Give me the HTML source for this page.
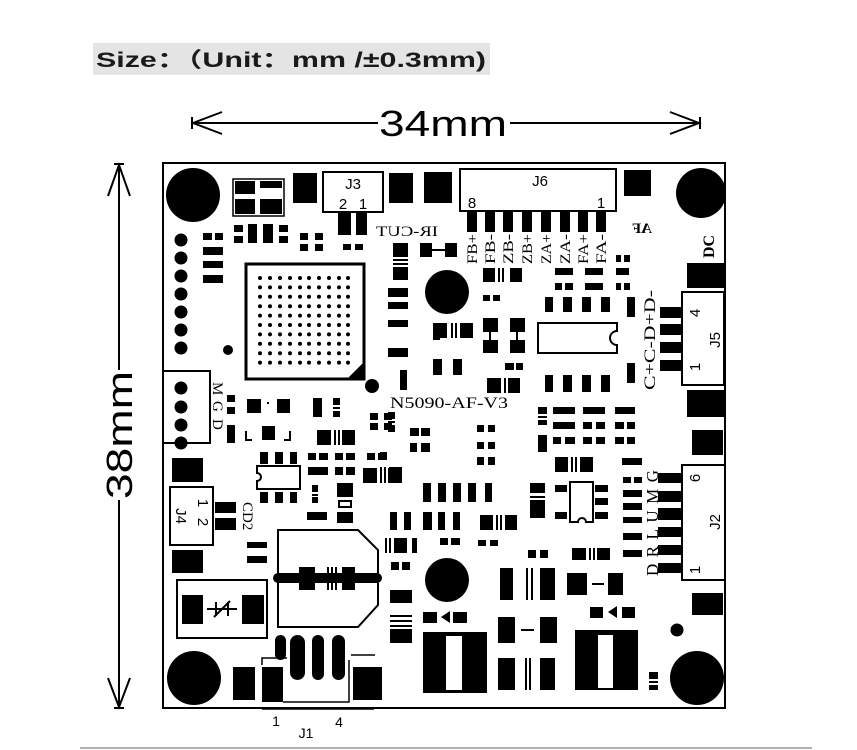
<!DOCTYPE html>
<html><head><meta charset="utf-8"><style>
html,body{margin:0;padding:0;background:#fff;width:857px;height:750px;overflow:hidden}
svg{display:block}
.s{font-family:"Liberation Serif",serif}
.a{font-family:"Liberation Sans",sans-serif}
</style></head><body>
<svg width="857" height="750" viewBox="0 0 857 750" xmlns="http://www.w3.org/2000/svg">
<rect x="93" y="43" width="397" height="32" fill="#e4e4e4"/>
<text x="96" y="67" class="a" font-size="21" font-weight="bold" fill="#1a1a1a" textLength="390" lengthAdjust="spacingAndGlyphs" style="font-family:'Liberation Sans','Noto Sans CJK SC',sans-serif">Size：（Unit：mm /±0.3mm)</text>

<g stroke="#000" stroke-width="2" fill="none">
<line x1="192" y1="123" x2="378" y2="123"/>
<line x1="510" y1="123" x2="700" y2="123"/>
<polyline points="222,112 193,123 222,134"/>
<polyline points="670,112 699,123 670,134"/>
<line x1="700" y1="117" x2="700" y2="129"/>
<line x1="192" y1="117" x2="192" y2="129"/>
<line x1="119" y1="165" x2="119" y2="370"/>
<line x1="119" y1="500" x2="119" y2="707"/>
<polyline points="108,196 119,165 130,196"/>
<polyline points="108,678 119,707 130,678"/>
<line x1="114" y1="708" x2="124" y2="708"/>
<line x1="114" y1="164" x2="124" y2="164"/>
</g>
<text x="443" y="136" class="a" font-size="36" text-anchor="middle" fill="#000" textLength="128" lengthAdjust="spacingAndGlyphs">34mm</text>
<text transform="translate(132,435) rotate(-90)" class="a" font-size="36" text-anchor="middle" fill="#000" textLength="128" lengthAdjust="spacingAndGlyphs">38mm</text>

<line x1="80" y1="748" x2="812" y2="748" stroke="#999" stroke-width="1.5"/>

<rect x="163" y="163" width="562" height="545" fill="#fff" stroke="#000" stroke-width="2"/>

<g fill="#000">
<circle cx="193" cy="195" r="27"/>
<circle cx="701" cy="193" r="25"/>
<circle cx="194" cy="678" r="27"/>
<circle cx="697" cy="678" r="27"/>
</g>
<rect x="233" y="179" width="51" height="37" fill="none" stroke="#000" stroke-width="1.5"/>
<g fill="#000">
<rect x="235" y="181" width="20" height="13"/><rect x="260" y="181" width="22" height="7"/>
<rect x="235" y="199" width="20" height="15"/><rect x="260" y="199" width="22" height="15"/>
<rect x="293" y="173" width="24" height="30"/>
<rect x="389" y="173" width="24" height="30"/>
<rect x="424" y="172" width="28" height="31"/>
<rect x="624" y="170" width="27" height="26"/>
</g>
<rect x="323" y="172" width="60" height="40" fill="none" stroke="#000" stroke-width="2"/>
<text x="353" y="189" class="a" font-size="15" text-anchor="middle">J3</text>
<text x="343" y="209" class="a" font-size="15" text-anchor="middle">2</text>
<text x="363" y="209" class="a" font-size="15" text-anchor="middle">1</text>

<rect x="460" y="169" width="156" height="42" fill="none" stroke="#000" stroke-width="2"/>
<text x="540" y="186" class="a" font-size="15" text-anchor="middle">J6</text>
<text x="472" y="208" class="a" font-size="15" text-anchor="middle">8</text>
<text x="601" y="208" class="a" font-size="15" text-anchor="middle">1</text>
<g fill="#000">
<rect x="467" y="211" width="10" height="21"/><rect x="485" y="211" width="10" height="21"/>
<rect x="503" y="211" width="10" height="21"/><rect x="522" y="211" width="10" height="21"/>
<rect x="541" y="211" width="10" height="21"/><rect x="560" y="211" width="10" height="21"/>
<rect x="578" y="211" width="10" height="21"/><rect x="596" y="211" width="10" height="21"/>
</g>
<g class="s" font-size="15" fill="#000">
<text transform="translate(477,264) rotate(-90)" textLength="30" lengthAdjust="spacingAndGlyphs">FB+</text>
<text transform="translate(495,264) rotate(-90)" textLength="30" lengthAdjust="spacingAndGlyphs">FB-</text>
<text transform="translate(513,264) rotate(-90)" textLength="30" lengthAdjust="spacingAndGlyphs">ZB-</text>
<text transform="translate(532,264) rotate(-90)" textLength="30" lengthAdjust="spacingAndGlyphs">ZB+</text>
<text transform="translate(551,264) rotate(-90)" textLength="30" lengthAdjust="spacingAndGlyphs">ZA+</text>
<text transform="translate(570,264) rotate(-90)" textLength="30" lengthAdjust="spacingAndGlyphs">ZA-</text>
<text transform="translate(588,264) rotate(-90)" textLength="30" lengthAdjust="spacingAndGlyphs">FA+</text>
<text transform="translate(606,264) rotate(-90)" textLength="30" lengthAdjust="spacingAndGlyphs">FA-</text>
</g>
<text transform="translate(652,233) scale(-1,1)" class="s" font-size="15" font-weight="bold">AF</text>
<text transform="translate(438,236) scale(-1,1)" class="s" font-size="15" textLength="62" lengthAdjust="spacingAndGlyphs">IR-CUT</text>
<text transform="translate(714,258) rotate(-90)" class="s" font-size="16" font-weight="bold">DC</text>

<g fill="#000">
<circle cx="181" cy="240" r="6.5"/><circle cx="181" cy="258" r="6.5"/><circle cx="181" cy="276" r="6.5"/>
<circle cx="181" cy="294" r="6.5"/><circle cx="181" cy="312" r="6.5"/><circle cx="181" cy="330" r="6.5"/>
<circle cx="181" cy="348" r="6.5"/>
<circle cx="228" cy="350" r="5"/>
<circle cx="372" cy="386" r="7"/>
<circle cx="447" cy="292" r="22"/>
<circle cx="447" cy="580" r="22"/>
<circle cx="677" cy="630" r="6.5"/>
</g>

<rect x="246" y="264" width="118" height="115" fill="none" stroke="#000" stroke-width="3"/>
<polygon points="364,362 364,379 347,379" fill="#000"/>
<g fill="#000">
<g id="row">
<circle cx="260" cy="278" r="2"/><circle cx="270" cy="278" r="2"/><circle cx="280" cy="278" r="2"/>
<circle cx="290" cy="278" r="2"/><circle cx="300" cy="278" r="2"/><circle cx="309" cy="278" r="2"/>
<circle cx="319" cy="278" r="2"/><circle cx="329" cy="278" r="2"/><circle cx="339" cy="278" r="2"/>
<circle cx="348" cy="278" r="2"/>
</g>
<use href="#row" y="9.4"/><use href="#row" y="18.8"/><use href="#row" y="28.2"/><use href="#row" y="37.6"/>
<use href="#row" y="47"/><use href="#row" y="56.4"/><use href="#row" y="65.8"/><use href="#row" y="75.2"/><use href="#row" y="84.6"/>
</g>

<g fill="#000">
<rect x="203" y="233" width="9" height="7"/><rect x="215" y="233" width="8" height="7"/>
<rect x="203" y="247" width="20" height="8"/><rect x="203" y="261" width="20" height="7"/><rect x="203" y="275" width="20" height="8"/>
<rect x="234" y="225" width="9" height="7"/><rect x="234" y="236" width="9" height="7"/>
<rect x="248" y="224" width="9" height="19"/><rect x="263" y="224" width="10" height="19"/>
<rect x="279" y="225" width="9" height="7"/><rect x="279" y="236" width="9" height="7"/>
<rect x="300" y="233" width="8" height="7"/><rect x="315" y="233" width="8" height="7"/>
<rect x="300" y="244" width="8" height="7"/><rect x="315" y="244" width="8" height="7"/>
<rect x="338" y="213" width="13" height="22"/><rect x="356" y="213" width="11" height="22"/>
<rect x="343" y="244" width="8" height="6"/><rect x="355" y="244" width="8" height="6"/>
<rect x="393" y="243" width="15" height="14"/>
<rect x="393" y="259" width="15" height="2"/><rect x="393" y="263" width="15" height="2"/>
<rect x="393" y="267" width="15" height="13"/>
<rect x="420" y="243" width="12" height="14"/><rect x="432" y="249" width="13" height="2"/><rect x="445" y="243" width="12" height="14"/>
<rect x="388" y="288" width="20" height="9"/><rect x="388" y="302" width="20" height="7"/>
<rect x="388" y="320" width="20" height="7"/><rect x="388" y="348" width="20" height="9"/>
<rect x="400" y="370" width="7" height="20"/>
<rect x="433" y="327" width="7" height="13"/>

<rect x="483" y="268" width="12" height="14"/><rect x="498" y="268" width="2" height="14"/><rect x="502" y="268" width="2" height="14"/><rect x="510" y="268" width="12" height="14"/>
<rect x="483" y="295" width="7" height="6"/><rect x="493" y="295" width="7" height="6"/>
<rect x="555" y="268" width="18" height="7"/><rect x="585" y="268" width="18" height="7"/><rect x="616" y="268" width="13" height="7"/>
<rect x="616" y="255" width="5" height="7"/><rect x="624" y="255" width="6" height="7"/>
<rect x="555" y="283" width="7" height="7"/><rect x="565" y="283" width="8" height="7"/>
<rect x="585" y="283" width="18" height="7"/>
<rect x="616" y="283" width="5" height="7"/><rect x="624" y="283" width="6" height="7"/>
<rect x="545" y="297" width="8" height="15"/><rect x="563" y="297" width="9" height="15"/><rect x="582" y="297" width="9" height="15"/><rect x="601" y="297" width="9" height="15"/>
<rect x="627" y="297" width="8" height="20"/>
<rect x="433" y="323" width="14" height="15"/><rect x="451" y="323" width="2" height="15"/><rect x="455" y="323" width="2" height="15"/><rect x="460" y="323" width="13" height="15"/>
<rect x="483" y="318" width="15" height="14"/><rect x="489" y="332" width="2" height="8"/><rect x="483" y="340" width="15" height="13"/>
<rect x="510" y="318" width="15" height="14"/><rect x="516" y="332" width="2" height="8"/><rect x="510" y="340" width="15" height="13"/>
<rect x="433" y="359" width="9" height="16"/><rect x="453" y="359" width="9" height="16"/>
<rect x="507" y="363" width="7" height="7"/><rect x="516" y="363" width="6" height="7"/>
<rect x="487" y="378" width="14" height="15"/><rect x="504" y="378" width="2" height="15"/><rect x="508" y="378" width="12" height="15"/>
<rect x="545" y="375" width="8" height="17"/><rect x="563" y="375" width="9" height="17"/><rect x="582" y="375" width="9" height="17"/><rect x="601" y="375" width="9" height="17"/>
<rect x="627" y="363" width="8" height="20"/>
</g>
<path d="M538,323 H617 V331 A7,7 0 0 0 617,345 V353 H538 Z" fill="none" stroke="#000" stroke-width="2"/>

<rect x="682" y="292" width="42" height="93" fill="none" stroke="#000" stroke-width="2"/>
<g fill="#000">
<rect x="660" y="307" width="22" height="11"/><rect x="660" y="324" width="22" height="11"/>
<rect x="660" y="342" width="22" height="11"/><rect x="660" y="360" width="22" height="11"/>
<rect x="687" y="263" width="37" height="25"/>
<rect x="687" y="390" width="37" height="27"/>
</g>
<text transform="translate(700,313) rotate(-90)" class="a" font-size="15" text-anchor="middle">4</text>
<text transform="translate(700,367) rotate(-90)" class="a" font-size="15" text-anchor="middle">1</text>
<text transform="translate(720,340) rotate(-90)" class="a" font-size="15" text-anchor="middle">J5</text>
<text transform="translate(655,390) rotate(-90)" class="s" font-size="16" textLength="100" lengthAdjust="spacingAndGlyphs">C+C-D+D-</text>

<rect x="163" y="371" width="47" height="72" fill="none" stroke="#000" stroke-width="2"/>
<g fill="#000">
<circle cx="181" cy="388" r="6.5"/><circle cx="181" cy="407" r="6.5"/><circle cx="181" cy="425" r="6.5"/><circle cx="181" cy="443" r="6.5"/>
</g>
<g class="s" font-size="15">
<text transform="translate(213,382) rotate(90)">M</text>
<text transform="translate(213,401) rotate(90)">G</text>
<text transform="translate(213,419) rotate(90)">D</text>
</g>
<g fill="#000">
<rect x="227" y="395" width="8" height="7"/><rect x="227" y="407" width="8" height="7"/>
<rect x="227" y="425" width="8" height="18"/>
<rect x="247" y="399" width="14" height="14"/><rect x="267" y="402" width="2" height="2"/><rect x="277" y="399" width="13" height="14"/>
<rect x="262" y="426" width="13" height="14"/>
<rect x="313" y="398" width="9" height="19"/>
<rect x="333" y="398" width="7" height="7"/><rect x="333" y="407" width="7" height="2"/><rect x="333" y="411" width="7" height="6"/>
<rect x="317" y="430" width="14" height="15"/><rect x="334" y="430" width="2" height="15"/><rect x="338" y="430" width="2" height="15"/><rect x="342" y="430" width="13" height="15"/>
<rect x="370" y="413" width="8" height="7"/><rect x="384" y="413" width="8" height="7"/>
<rect x="370" y="423" width="8" height="7"/><rect x="384" y="423" width="8" height="7"/>
<rect x="410" y="428" width="7" height="8"/><rect x="421" y="428" width="9" height="8"/>
<rect x="410" y="443" width="7" height="9"/><rect x="421" y="443" width="9" height="9"/>
<rect x="388" y="412" width="7" height="7"/><rect x="388" y="421" width="7" height="2"/><rect x="388" y="425" width="7" height="7"/>
<rect x="172" y="458" width="31" height="24"/>
<rect x="172" y="550" width="31" height="23"/>
<rect x="215" y="502" width="21" height="11"/><rect x="215" y="518" width="21" height="12"/>
<rect x="247" y="542" width="20" height="6"/><rect x="247" y="556" width="20" height="7"/>
</g>
<path d="M246,431 V440 H252 M290,431 V440 H284" fill="none" stroke="#000" stroke-width="2"/>

<path d="M257,466 H300 V489 H257 V481 A4,4 0 0 0 257,473 Z" fill="none" stroke="#000" stroke-width="2"/>
<g fill="#000">
<rect x="260" y="452" width="8" height="12"/><rect x="275" y="452" width="8" height="12"/><rect x="290" y="452" width="7" height="12"/>
<rect x="260" y="492" width="8" height="11"/><rect x="275" y="492" width="8" height="11"/><rect x="290" y="492" width="7" height="11"/>
<rect x="308" y="453" width="8" height="7"/><rect x="319" y="453" width="9" height="7"/>
<rect x="335" y="453" width="8" height="7"/><rect x="346" y="453" width="9" height="7"/>
<rect x="367" y="453" width="8" height="7"/><rect x="378" y="453" width="9" height="7"/>
<rect x="308" y="467" width="20" height="8"/>
<rect x="335" y="467" width="8" height="8"/><rect x="346" y="467" width="9" height="8"/>
<rect x="363" y="468" width="14" height="15"/><rect x="380" y="468" width="2" height="15"/><rect x="384" y="468" width="2" height="15"/><rect x="388" y="468" width="12" height="15"/>
<rect x="312" y="485" width="6" height="7"/><rect x="312" y="494" width="6" height="2"/><rect x="312" y="497" width="6" height="6"/>
<rect x="337" y="483" width="16" height="14"/>
<rect x="337" y="512" width="16" height="11"/>
<rect x="307" y="512" width="20" height="8"/>
</g>
<rect x="339" y="501" width="12" height="6" fill="none" stroke="#000" stroke-width="2"/>
<text transform="translate(243,502) rotate(90)" class="s" font-size="15">CD2</text>

<rect x="170" y="487" width="43" height="58" fill="none" stroke="#000" stroke-width="2"/>
<text transform="translate(198,503) rotate(90)" class="a" font-size="15" text-anchor="middle">1</text>
<text transform="translate(198,522) rotate(90)" class="a" font-size="15" text-anchor="middle">2</text>
<text transform="translate(176,516) rotate(90)" class="a" font-size="15" text-anchor="middle">J4</text>

<text x="390" y="408" class="s" font-size="16" textLength="118" lengthAdjust="spacingAndGlyphs">N5090-AF-V3</text>
<g fill="#000">
<rect x="505" y="363" width="7" height="7"/><rect x="516" y="363" width="7" height="7"/>
<rect x="412" y="428" width="7" height="8"/><rect x="422" y="428" width="8" height="8"/>
<rect x="477" y="425" width="7" height="7"/><rect x="488" y="425" width="7" height="7"/>
<rect x="477" y="442" width="7" height="7"/><rect x="488" y="442" width="7" height="7"/>
<rect x="477" y="457" width="7" height="8"/><rect x="488" y="457" width="7" height="8"/>
<rect x="538" y="407" width="9" height="7"/><rect x="538" y="416" width="9" height="2"/><rect x="538" y="420" width="9" height="5"/>
<rect x="538" y="435" width="9" height="17"/>
<rect x="553" y="407" width="22" height="7"/><rect x="583" y="407" width="22" height="7"/><rect x="615" y="407" width="20" height="7"/>
<rect x="553" y="422" width="22" height="7"/>
<rect x="583" y="422" width="9" height="7"/><rect x="596" y="422" width="9" height="7"/>
<rect x="615" y="422" width="9" height="7"/><rect x="627" y="422" width="8" height="7"/>
<rect x="553" y="437" width="8" height="7"/><rect x="565" y="437" width="10" height="7"/>
<rect x="583" y="437" width="9" height="7"/><rect x="596" y="437" width="9" height="7"/>
<rect x="615" y="437" width="9" height="7"/><rect x="627" y="437" width="8" height="7"/>
<rect x="555" y="457" width="13" height="15"/><rect x="571" y="457" width="2" height="15"/><rect x="575" y="457" width="2" height="15"/><rect x="580" y="457" width="13" height="15"/>
<rect x="622" y="458" width="20" height="7"/>
<rect x="380" y="452" width="7" height="8"/>
<rect x="380" y="467" width="2" height="16"/><rect x="384" y="467" width="2" height="16"/><rect x="389" y="467" width="13" height="16"/>
<rect x="423" y="483" width="8" height="19"/><rect x="438" y="483" width="8" height="19"/><rect x="453" y="483" width="8" height="19"/><rect x="468" y="483" width="8" height="19"/><rect x="485" y="483" width="7" height="19"/>
<rect x="530" y="483" width="15" height="10"/><rect x="530" y="496" width="15" height="2"/><rect x="530" y="500" width="15" height="18"/>
<rect x="555" y="485" width="12" height="7"/><rect x="555" y="512" width="12" height="7"/>
<rect x="595" y="485" width="13" height="7"/><rect x="595" y="498" width="13" height="7"/><rect x="595" y="512" width="13" height="7"/>
<rect x="390" y="512" width="7" height="18"/><rect x="404" y="512" width="7" height="18"/>
<rect x="423" y="512" width="9" height="18"/><rect x="438" y="512" width="7" height="18"/><rect x="453" y="512" width="7" height="18"/>
<rect x="480" y="515" width="13" height="15"/><rect x="496" y="515" width="2" height="15"/><rect x="500" y="515" width="2" height="15"/><rect x="505" y="515" width="12" height="15"/>
<rect x="385" y="538" width="2" height="15"/><rect x="389" y="538" width="2" height="15"/><rect x="394" y="538" width="13" height="15"/>
<rect x="412" y="538" width="5" height="15"/>
<rect x="440" y="538" width="8" height="7"/><rect x="451" y="538" width="9" height="7"/>
<rect x="478" y="540" width="8" height="6"/><rect x="490" y="540" width="8" height="6"/>
<rect x="528" y="550" width="8" height="8"/><rect x="540" y="550" width="8" height="8"/>
<rect x="572" y="548" width="14" height="12"/><rect x="589" y="548" width="2" height="12"/><rect x="593" y="548" width="2" height="12"/><rect x="597" y="548" width="13" height="12"/>
<rect x="391" y="562" width="8" height="8"/><rect x="402" y="562" width="8" height="8"/>
<rect x="390" y="590" width="22" height="13"/>
<rect x="390" y="615" width="22" height="2"/><rect x="390" y="620" width="22" height="2"/><rect x="390" y="625" width="22" height="2"/>
<rect x="390" y="629" width="22" height="14"/>
</g>
<path d="M570,482 H593 V522 H586 A4,4 0 0 0 578,522 H570 Z" fill="none" stroke="#000" stroke-width="2"/>

<rect x="682" y="465" width="43" height="115" fill="none" stroke="#000" stroke-width="2"/>
<g fill="#000">
<rect x="658" y="473" width="24" height="10"/><rect x="658" y="491" width="24" height="11"/>
<rect x="658" y="508" width="24" height="12"/><rect x="658" y="527" width="24" height="10"/>
<rect x="658" y="545" width="24" height="10"/><rect x="658" y="563" width="24" height="10"/>
<rect x="692" y="430" width="31" height="25"/>
<rect x="692" y="593" width="31" height="22"/>
<rect x="623" y="477" width="8" height="6"/><rect x="634" y="477" width="8" height="6"/>
<rect x="623" y="490" width="19" height="7"/><rect x="623" y="503" width="19" height="7"/>
<rect x="623" y="517" width="19" height="6"/><rect x="623" y="533" width="19" height="7"/>
<rect x="623" y="550" width="19" height="7"/>
</g>
<text transform="translate(700,478) rotate(-90)" class="a" font-size="15" text-anchor="middle">6</text>
<text transform="translate(700,570) rotate(-90)" class="a" font-size="15" text-anchor="middle">1</text>
<text transform="translate(720,522) rotate(-90)" class="a" font-size="15" text-anchor="middle">J2</text>
<text transform="translate(658,576) rotate(-90)" class="s" font-size="17" textLength="106" lengthAdjust="spacing">DRLUMG</text>

<rect x="177" y="580" width="90" height="58" fill="none" stroke="#000" stroke-width="2"/>
<g fill="#000">
<rect x="182" y="595" width="21" height="29"/><rect x="242" y="595" width="22" height="29"/>
</g>
<path d="M207,609 H237 M216,602 V616 M228,602 V616 M214,617 L230,601" stroke="#000" stroke-width="2" fill="none"/>

<path d="M278,530 H358 L378,550 V605 L358,627 H278 Z" fill="none" stroke="#000" stroke-width="2"/>
<rect x="273" y="573" width="109" height="10" rx="5" fill="#000"/>
<g fill="#000">
<rect x="299" y="567" width="16" height="23"/>
<rect x="327" y="567" width="2" height="23"/><rect x="331" y="567" width="2" height="23"/><rect x="335" y="567" width="2" height="23"/>
<rect x="342" y="567" width="13" height="23"/>
</g>

<g fill="#000">
<rect x="275" y="635" width="11" height="25" rx="5.5"/>
<rect x="290" y="635" width="15" height="45" rx="7.5"/>
<rect x="312" y="635" width="12" height="45" rx="6"/>
<rect x="332" y="635" width="13" height="45" rx="6.5"/>
<rect x="233" y="667" width="22" height="33"/>
<rect x="262" y="667" width="21" height="35"/>
<rect x="353" y="667" width="29" height="33"/>
</g>
<path d="M262,665 V658 H287 M283,702 H349 V660 M351,655 H375 M262,709 H374" fill="none" stroke="#000" stroke-width="1.5"/>
<text x="276" y="726" class="a" font-size="14" text-anchor="middle">1</text>
<text x="339" y="727" class="a" font-size="14" text-anchor="middle">4</text>
<text x="306" y="738" class="a" font-size="14" text-anchor="middle">J1</text>

<g fill="#000">
<rect x="500" y="568" width="13" height="32"/>
<rect x="526" y="568" width="2" height="32"/><rect x="531" y="568" width="2" height="32"/>
<rect x="540" y="568" width="15" height="32"/>
<rect x="567" y="573" width="20" height="22"/><rect x="592" y="583" width="12" height="2"/><rect x="608" y="573" width="15" height="22"/>
<rect x="590" y="607" width="13" height="11"/><polygon points="608,612 617,606 617,618"/><rect x="622" y="607" width="13" height="11"/>
<rect x="423" y="612" width="14" height="11"/><polygon points="441,617 450,611 450,623"/><rect x="453" y="612" width="14" height="11"/>
<rect x="423" y="632" width="64" height="61"/>
<rect x="575" y="630" width="63" height="60"/>
<rect x="498" y="617" width="17" height="26"/><rect x="521" y="629" width="13" height="2"/><rect x="540" y="617" width="17" height="26"/>
<rect x="498" y="658" width="17" height="32"/>
<rect x="525" y="658" width="2" height="32"/><rect x="529" y="658" width="2" height="32"/>
<rect x="540" y="658" width="15" height="32"/>
<rect x="649" y="672" width="9" height="7"/><rect x="649" y="681" width="9" height="2"/><rect x="649" y="685" width="9" height="5"/>
</g>
<g fill="#fff">
<rect x="446" y="636" width="16" height="54"/>
<rect x="598" y="635" width="15" height="53"/>
</g>
</svg>
</body></html>
